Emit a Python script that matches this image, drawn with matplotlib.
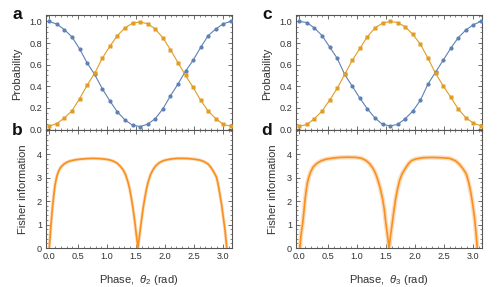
import numpy as np
import matplotlib
matplotlib.use("Agg")
import matplotlib.pyplot as plt
from matplotlib.ticker import MultipleLocator

plt.rcParams['font.family'] = ['Liberation Sans', 'DejaVu Sans']
plt.rcParams['mathtext.fontset'] = 'custom'
plt.rcParams['mathtext.it'] = 'Liberation Sans:italic'
plt.rcParams['mathtext.rm'] = 'Liberation Sans'

# ---------------- data ----------------
phase = np.linspace(0, np.pi, 25)

prob_blue_a = [1.00, 0.976, 0.924, 0.857, 0.747, 0.616, 0.509, 0.378, 0.265, 0.162,
               0.088, 0.040, 0.027, 0.049, 0.100, 0.190, 0.310, 0.420, 0.540, 0.640,
               0.760, 0.870, 0.930, 0.980, 1.00]
prob_orange_a = [0.030, 0.055, 0.107, 0.174, 0.284, 0.410, 0.520, 0.660, 0.770, 0.870,
                 0.940, 0.985, 0.994, 0.980, 0.930, 0.850, 0.740, 0.620, 0.500, 0.390,
                 0.270, 0.170, 0.100, 0.046, 0.030]

prob_blue_c = [1.00, 0.990, 0.940, 0.870, 0.765, 0.660, 0.510, 0.400, 0.290, 0.190,
               0.107, 0.046, 0.034, 0.046, 0.100, 0.170, 0.270, 0.420, 0.530, 0.640,
               0.750, 0.850, 0.920, 0.970, 1.00]
prob_orange_c = [0.030, 0.046, 0.100, 0.170, 0.270, 0.380, 0.510, 0.640, 0.750, 0.860,
                 0.940, 0.985, 1.000, 0.990, 0.950, 0.880, 0.790, 0.660, 0.520, 0.405,
                 0.300, 0.190, 0.110, 0.058, 0.034]

theta_b = [0.000, 0.015, 0.030, 0.045, 0.060, 0.080, 0.100, 0.130, 0.160, 0.200,
           0.250, 0.300, 0.360, 0.450, 0.550, 0.650, 0.760, 0.870, 0.990, 1.050,
           1.110, 1.170, 1.230, 1.280, 1.320, 1.360, 1.390, 1.420, 1.450, 1.480,
           1.505, 1.534, 1.563, 1.590, 1.620, 1.650, 1.680, 1.710, 1.750, 1.790,
           1.840, 1.900, 1.960, 2.030, 2.120, 2.220, 2.320, 2.420, 2.520, 2.600,
           2.680, 2.750, 2.800, 2.850, 2.890, 2.920, 2.950, 2.980, 3.010, 3.040, 3.070]
fisher_b = [0.00, 0.50, 1.00, 1.45, 1.85, 2.30, 2.70, 3.05, 3.27, 3.45,
            3.57, 3.65, 3.71, 3.76, 3.79, 3.81, 3.82, 3.81, 3.78, 3.75,
            3.70, 3.62, 3.48, 3.32, 3.12, 2.82, 2.52, 2.12, 1.65, 1.10,
            0.58, 0.00, 0.58, 1.10, 1.65, 2.10, 2.50, 2.82, 3.12, 3.32,
            3.50, 3.63, 3.71, 3.76, 3.80, 3.82, 3.82, 3.81, 3.78, 3.75,
            3.68, 3.57, 3.42, 3.22, 3.03, 2.72, 2.30, 1.85, 1.30, 0.75, 0.00]

theta_d = [0.012, 0.025, 0.040, 0.058, 0.080, 0.098, 0.120, 0.138, 0.165, 0.196,
           0.240, 0.300, 0.380, 0.470, 0.580, 0.700, 0.850, 0.990, 1.080, 1.160,
           1.220, 1.276, 1.320, 1.360, 1.400, 1.440, 1.470, 1.495, 1.525, 1.552,
           1.580, 1.610, 1.640, 1.667, 1.700, 1.736, 1.780, 1.834, 1.890, 1.940,
           2.020, 2.150, 2.310, 2.450, 2.600, 2.700, 2.770, 2.830, 2.886, 2.930,
           2.970, 3.000, 3.030, 3.055, 3.078]
fisher_d = [0.00, 0.45, 0.75, 1.03, 1.55, 2.03, 2.45, 2.75, 3.02, 3.24,
            3.45, 3.60, 3.72, 3.79, 3.83, 3.86, 3.87, 3.86, 3.82, 3.72,
            3.58, 3.39, 3.17, 2.89, 2.55, 2.10, 1.65, 1.10, 0.55, 0.00,
            0.55, 1.10, 1.65, 2.10, 2.52, 2.89, 3.17, 3.39, 3.60, 3.72,
            3.80, 3.85, 3.86, 3.85, 3.82, 3.72, 3.57, 3.38, 3.17, 2.80,
            2.32, 1.85, 1.31, 0.70, 0.00]

x_ticks = [0.0, 0.5, 1.0, 1.5, 2.0, 2.5, 3.0]
prob_ticks = [0.0, 0.2, 0.4, 0.6, 0.8, 1.0]
fisher_ticks = [0, 1, 2, 3, 4]

# ---------------- style ----------------
BLUE = '#5E81B5'
ORANGE = '#E19C24'
FI = '#F7901E'
FRAME = '#555555'
TXT = '#333333'

W, H = 498, 287
fig = plt.figure(figsize=(W / 100, H / 100), dpi=100)


def style(ax, yminor):
    for s in ax.spines.values():
        s.set_color(FRAME)
        s.set_linewidth(0.8)
    ax.set_xlim(-0.062, 3.155)
    ax.set_xticks(x_ticks)
    ax.xaxis.set_minor_locator(MultipleLocator(0.1))
    ax.yaxis.set_minor_locator(MultipleLocator(yminor))
    ax.tick_params(which='both', direction='in', top=True, right=True,
                   color=FRAME, labelcolor=TXT, labelsize=6.6, pad=2.6)
    ax.tick_params(which='major', length=3.0, width=0.6)
    ax.tick_params(which='minor', length=1.6, width=0.5)


def panel(x0, blue, orange, th, fi, sub, band_lw, lab_top, lab_bot):
    left = x0 / W
    width = 186 / W
    ax1 = fig.add_axes([left, 1 - 130 / H, width, 115 / H])
    ax2 = fig.add_axes([left, 1 - 248 / H, width, 118 / H])

    ax1.plot(phase, blue, '-', color=BLUE, lw=0.8, zorder=2)
    ax1.plot(phase, blue, 'o', color=BLUE, ms=3.0, mec='none', zorder=3)
    ax1.plot(phase, orange, '-', color=ORANGE, lw=0.8, zorder=2)
    ax1.plot(phase, orange, 's', color=ORANGE, ms=3.4, mec='none', zorder=3)
    ax1.set_ylim(-0.005, 1.06)
    ax1.set_yticks(prob_ticks)
    ax1.set_yticklabels([f'{v:.1f}' for v in prob_ticks])
    style(ax1, 0.05)
    ax1.tick_params(labelbottom=False)
    ax1.set_ylabel('Probability', fontsize=8, color=TXT)
    ax1.yaxis.set_label_coords(-0.129, 0.49)

    ax2.plot(th, fi, '-', color='#FBC08A', lw=band_lw, alpha=0.55,
             solid_capstyle='butt', zorder=2)
    ax2.plot(th, fi, '-', color=FI, lw=1.2, zorder=3)
    ax2.set_ylim(0, 5.03)
    ax2.set_yticks(fisher_ticks)
    style(ax2, 0.2)
    ax2.set_xticklabels([f'{v:.1f}' for v in x_ticks])
    ax2.set_ylabel('Fisher information', fontsize=8, color=TXT)
    ax2.yaxis.set_label_coords(-0.094, 0.5)
    ax2.set_xlabel('Phase,  $\\mathit{\\theta}_{' + sub + '}$ (rad)',
                   fontsize=8, color=TXT)
    ax2.xaxis.set_label_coords(0.5, -0.215)

    fig.text((x0 - 33) / W, 1 - 19.3 / H, lab_top, fontsize=12.5,
             fontweight='bold', ha='left', va='baseline', color='#111111')
    fig.text((x0 - 34) / W, 1 - 135 / H, lab_bot, fontsize=12.5,
             fontweight='bold', ha='left', va='baseline', color='#111111')


panel(45.7, prob_blue_a, prob_orange_a, theta_b, fisher_b, '2', 2.4, 'a', 'b')
panel(295.7, prob_blue_c, prob_orange_c, theta_d, fisher_d, '3', 3.2, 'c', 'd')

fig.savefig('out.png', dpi=100)
